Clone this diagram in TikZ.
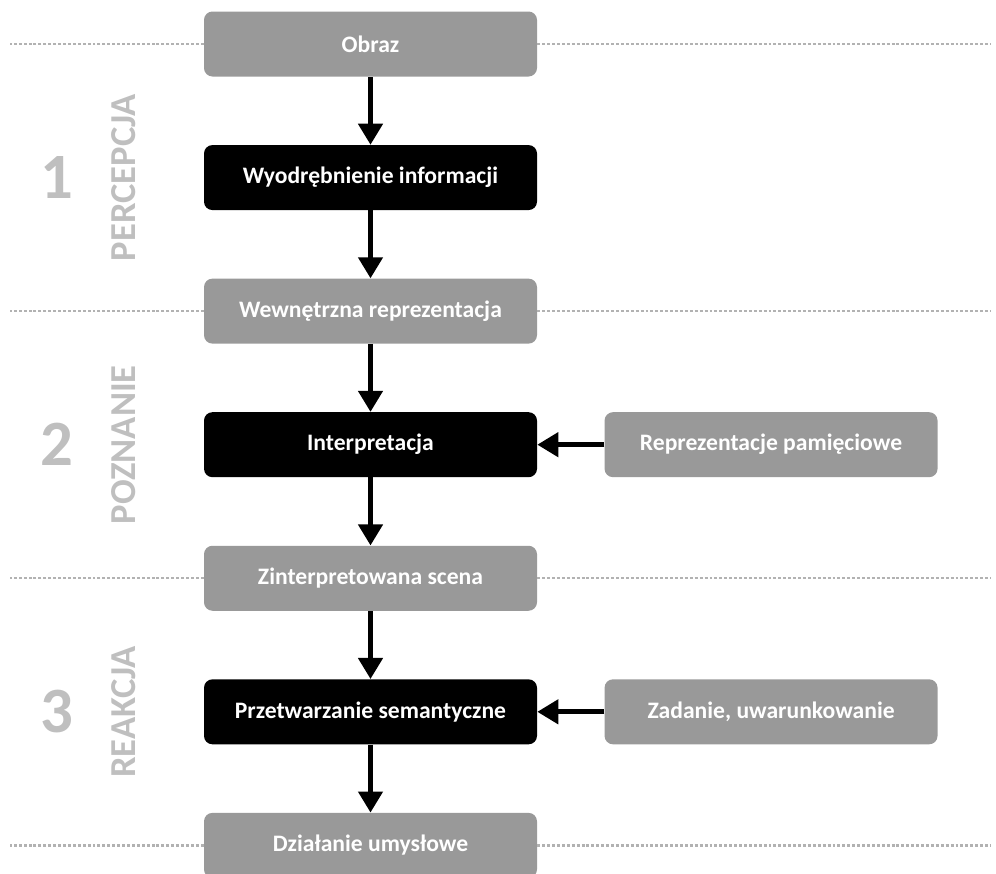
\documentclass[tikz,border=0pt]{standalone}
\usepackage{fontspec}
\setmainfont{Carlito}
\usepackage{xcolor}
\usepackage{tikz}
\usetikzlibrary{positioning, arrows.meta}

\definecolor{boxgray}{RGB}{153,153,153}
\definecolor{labgray}{RGB}{191,191,191}
\definecolor{sepgray}{RGB}{178,178,178}

\begin{document}
\begin{tikzpicture}[
  node distance=1.7cm,
  box/.style={rounded corners=6pt, minimum width=8.325cm, minimum height=1.625cm, align=center, text=white, font=\bfseries\fontsize{16.8}{20}\selectfont},
  graybox/.style={box, fill=boxgray},
  blackbox/.style={box, fill=black},
  num/.style={text=labgray, font=\bfseries\fontsize{46}{50}\selectfont},
  phase/.style={text=labgray, rotate=90, font=\bfseries\fontsize{26}{30}\selectfont},
  arrow/.style={-{Triangle[width=17pt, length=15pt]}, line width=3.5pt},
  sep/.style={draw=sepgray, dash pattern=on 2.1pt off 1.4pt, line width=1.6pt}
]
  \useasboundingbox (0,0) rectangle (24.9,-21.85);

  % central chain
  \node[graybox] (obraz) at (9.2625,-1.1) {Obraz};
  \node[blackbox, below=of obraz] (wyod) {Wyodrębnienie informacji};
  \node[graybox, below=of wyod] (repr) {Wewnętrzna reprezentacja};
  \node[blackbox, below=of repr] (interp) {Interpretacja};
  \node[graybox, below=of interp] (scena) {Zinterpretowana scena};
  \node[blackbox, below=of scena] (sem) {Przetwarzanie semantyczne};
  \node[graybox, below=of sem] (dzial) {Działanie umysłowe};

  % side inputs
  \node[graybox, right=1.675cm of interp] (pamiec) {Reprezentacje pamięciowe};
  \node[graybox, right=1.675cm of sem] (zadanie) {Zadanie, uwarunkowanie};

  \draw[arrow] (obraz) -- (wyod);
  \draw[arrow] (wyod) -- (repr);
  \draw[arrow] (repr) -- (interp);
  \draw[arrow] (interp) -- (scena);
  \draw[arrow] (scena) -- (sem);
  \draw[arrow] (sem) -- (dzial);
  \draw[arrow] (pamiec) -- (interp);
  \draw[arrow] (zadanie) -- (sem);

  % phase labels
  \path (wyod.west) ++(-3.675,0) node[num] (n1) {1};
  \path (interp.west) ++(-3.675,0) node[num] (n2) {2};
  \path (sem.west) ++(-3.675,0) node[num] (n3) {3};
  \path (wyod.west) ++(-2.0,0) node[phase] (p1) {PERCEPCJA};
  \path (interp.west) ++(-2.0,0) node[phase] (p2) {POZNANIE};
  \path (sem.west) ++(-2.0,0) node[phase] (p3) {REAKCJA};

  % separators
  \coordinate (lft) at (0.25,0);
  \coordinate (rgt) at (24.75,0);
  \foreach \b in {obraz, repr, scena, dzial} {
    \draw[sep] (\b.west) -- (\b.west -| lft);
    \draw[sep] (\b.east) -- (\b.east -| rgt);
  }
\end{tikzpicture}
\end{document}
